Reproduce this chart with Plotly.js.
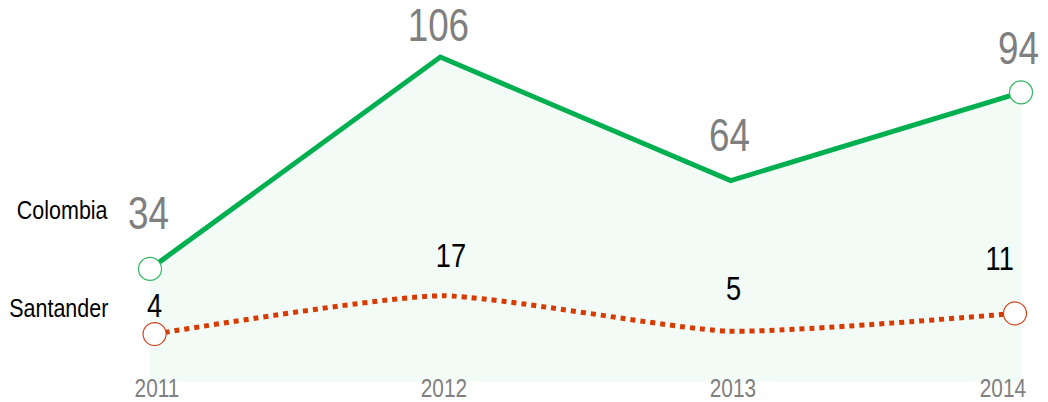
<!DOCTYPE html>
<html>
<head>
<meta charset="utf-8">
<script src="https://cdn.plot.ly/plotly-3.0.1.min.js"></script>
<style>html,body{margin:0;padding:0;background:#fff;}#chart{width:1048px;height:402px;}</style>
</head>
<body>
<div id="chart"></div>
<script>
const years = [2011, 2012, 2013, 2014];
const yearLabels = ['2011', '2012', '2013', '2014'];
const colombia = [34, 106, 64, 94];
const santander = [4, 17, 5, 11];
const seriesNames = ['Colombia', 'Santander'];

const FONT = 'Liberation Sans, Arial, sans-serif';
const GREEN = '#00b050';
const RED = '#d83b01';
const Y_RANGE = [-4.45, 118.6];
const Y2_RANGE = [-12.3, 110.75];
const ends = a => [a[0], a[a.length - 1]];

const traces = [
  { // axis floor for the area fill
    x: years, y: years.map(() => Y_RANGE[0]), type: 'scatter', mode: 'lines',
    line: {width: 0, color: 'rgba(0,0,0,0)'}, xaxis: 'x', yaxis: 'y', hoverinfo: 'skip', showlegend: false
  },
  {
    x: years, y: colombia, type: 'scatter', mode: 'lines',
    name: seriesNames[0], fill: 'tonexty', fillcolor: 'rgba(0,176,80,0.05)',
    line: {color: GREEN, width: 5}, xaxis: 'x', yaxis: 'y', hoverinfo: 'skip'
  },
  {
    x: years, y: santander, type: 'scatter', mode: 'lines',
    name: seriesNames[1],
    line: {color: RED, width: 5, dash: 'dot', shape: 'spline', smoothing: 0.55},
    xaxis: 'x2', yaxis: 'y2', hoverinfo: 'skip'
  },
  {
    x: ends(years), y: ends(colombia), type: 'scatter', mode: 'markers', cliponaxis: false,
    marker: {size: 23, color: '#ffffff', opacity: 1, line: {color: '#34b866', width: 1.2}},
    xaxis: 'x', yaxis: 'y', hoverinfo: 'skip', showlegend: false
  },
  {
    x: ends(years), y: ends(santander), type: 'scatter', mode: 'markers', cliponaxis: false,
    marker: {size: 23, color: '#ffffff', opacity: 1, line: {color: '#d9431a', width: 1.2}},
    xaxis: 'x2', yaxis: 'y2', hoverinfo: 'skip', showlegend: false
  }
];

// label offsets (styling)
const colShift = [56, 32, 46, 44];
const colXShift = [-2, -2, -1, -3];
const sanShift = [29, 41, 43, 55];
const sanXShift = [0, 10, 5, -15];
const tickXShift = [7, 4, 2, -18];

const annotations = [];
const squeeze = [];
years.forEach((yr, i) => {
  annotations.push({x: yr, y: colombia[i], xref: 'x', yref: 'y', text: String(colombia[i]),
    showarrow: false, xanchor: 'center', yanchor: 'middle', yshift: colShift[i], xshift: colXShift[i],
    font: {family: FONT, size: 46, color: '#7f7f7f'}});
  squeeze.push({s: 0.8, anchor: 'c'});
  annotations.push({x: yr, y: santander[i], xref: 'x2', yref: 'y2', text: String(santander[i]),
    showarrow: false, xanchor: 'center', yanchor: 'middle', yshift: sanShift[i], xshift: sanXShift[i],
    font: {family: FONT, size: 34, color: '#000000'}});
  squeeze.push({s: 0.8, anchor: 'c'});
  annotations.push({x: yr, y: 0, xref: 'paper' === 'x' ? 'x' : 'x', yref: 'paper', text: yearLabels[i],
    showarrow: false, xanchor: 'center', yanchor: 'middle', yshift: -6, xshift: tickXShift[i],
    font: {family: FONT, size: 26, color: '#808080'}});
  squeeze.push({s: 0.8, anchor: 'c'});
});
annotations.push({x: -0.046, y: 0.475, xref: 'paper', yref: 'paper', text: seriesNames[0],
  showarrow: false, xanchor: 'right', yanchor: 'middle', font: {family: FONT, size: 25, color: '#000'}});
squeeze.push({s: 0.86, anchor: 'r'});
annotations.push({x: -0.046, y: 0.204, xref: 'paper', yref: 'paper', text: seriesNames[1],
  showarrow: false, xanchor: 'right', yanchor: 'middle', font: {family: FONT, size: 25, color: '#000'}});
squeeze.push({s: 0.86, anchor: 'r'});

const layout = {
  width: 1048, height: 402,
  margin: {l: 150, r: 27, t: 20, b: 20},
  paper_bgcolor: '#ffffff', plot_bgcolor: '#ffffff',
  showlegend: false,
  xaxis: {range: [2011, 2014], showgrid: false, zeroline: false, showline: false, showticklabels: false},
  xaxis2: {range: [2010.984, 2014.021], overlaying: 'x', showgrid: false, zeroline: false, showline: false, showticklabels: false},
  yaxis: {range: Y_RANGE, showgrid: false, zeroline: false, showline: false, showticklabels: false},
  yaxis2: {range: Y2_RANGE, overlaying: 'y', showgrid: false, zeroline: false, showline: false, showticklabels: false},
  annotations: annotations
};

Plotly.newPlot('chart', traces, layout, {staticPlot: true, displayModeBar: false}).then(gd => {
  // narrow the text horizontally to mimic a condensed face
  gd.querySelectorAll('g.annotation').forEach(g => {
    const idx = +g.getAttribute('data-index');
    const conf = squeeze[idx];
    const t = g.querySelector('text.annotation-text');
    if (!conf || !t) return;
    const bb = t.getBBox();
    const ax = conf.anchor === 'r' ? bb.x + bb.width : bb.x + bb.width / 2;
    const prev = t.getAttribute('transform') || '';
    t.setAttribute('transform', `${prev} translate(${ax},0) scale(${conf.s},1) translate(${-ax},0)`);
  });
});
</script>
</body>
</html>
